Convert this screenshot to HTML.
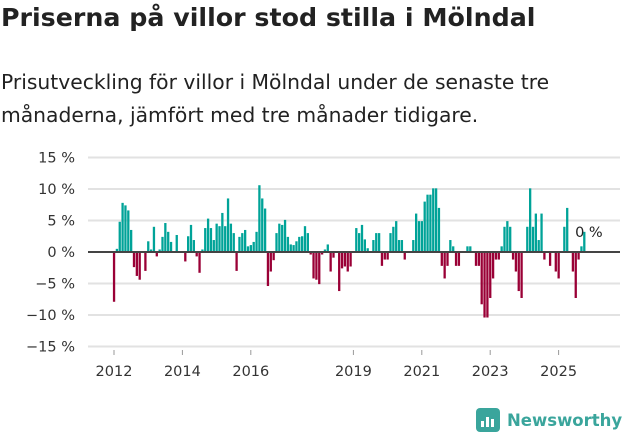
<!DOCTYPE html>
<html><head><meta charset="utf-8"><style>
body{margin:0;width:631px;height:439px;background:#fff;font-family:"DejaVu Sans",sans-serif;overflow:hidden;position:relative}
h1{position:absolute;left:1px;top:3px;margin:0;font-size:25.3px;font-weight:bold;color:#222;white-space:nowrap}
p{position:absolute;left:1px;top:66px;margin:0;font-size:20.3px;line-height:33px;color:#222;white-space:nowrap}
svg{position:absolute;left:0;top:0}
</style></head><body>
<h1>Priserna på villor stod stilla i Mölndal</h1>
<p>Prisutveckling för villor i Mölndal under de senaste tre<br>månaderna, jämfört med tre månader tidigare.</p>
<svg id="c" width="631" height="439"></svg>
<script>
const yTicks=[15,10,5,0,-5,-10,-15];
const yearLabels=["2012","2014","2016","2019","2021","2023","2025"];
const yearMonths=[0,24,48,84,108,132,156];
const values=[-7.9,0.5,4.8,7.8,7.4,6.6,3.5,-2.4,-3.8,-4.4,0,-3.0,
1.7,0.4,4.0,-0.7,0.4,2.4,4.6,3.2,1.6,0,2.7,0,
0,-1.5,2.5,4.3,1.9,-0.7,-3.3,0.4,3.8,5.3,3.8,1.9,
4.5,4.1,6.2,4.1,8.5,4.5,3.0,-3.0,2.4,3.0,3.5,0.9,
1.1,1.6,3.2,10.6,8.5,6.9,-5.4,-3.1,-1.3,3.0,4.5,4.3,
5.1,2.4,1.2,1.1,1.7,2.4,2.5,4.1,3.0,-0.4,-4.2,-4.4,
-5.1,-0.4,0.4,1.2,-3.1,-0.9,0,-6.2,-2.6,-2.3,-3.1,-2.3,
0,3.8,3.0,4.3,2.0,0.6,0,1.9,3.0,3.0,-2.2,-1.2,
-1.2,3.0,4.0,4.9,1.9,1.9,-1.2,0,0,1.9,6.1,4.9,
4.9,8.0,9.1,9.1,10.1,10.1,7.0,-2.2,-4.2,-2.2,1.9,0.9,
-2.2,-2.2,0,0,0.9,0.9,0,-2.2,-2.2,-8.3,-10.4,-10.4,
-7.3,-4.2,-1.2,-1.2,0.9,4.0,4.9,4.0,-1.2,-3.1,-6.2,-7.3,
0,4.0,10.1,4.0,6.1,1.9,6.1,-1.2,0,-2.2,0,-3.1,
-4.2,0,4.0,7.0,0,-3.1,-7.3,-1.2,0.9,3.2,0];
const lastLabel="0 %";
const NS="http://www.w3.org/2000/svg",svg=document.getElementById('c');
const y=v=>252-v*6.3, x=m=>114+2.85*m;
function mk(t,a,p){const e=document.createElementNS(NS,t);for(const k in a)e.setAttribute(k,a[k]);(p||svg).appendChild(e);return e;}
yTicks.forEach(v=>{
 if(v!==0){const g=mk('line',{x1:88,x2:620,y1:y(v),y2:y(v),stroke:'#e2e2e2','stroke-width':2});
 
 }
 const t=mk('text',{x:75,y:y(v)+5,'text-anchor':'end','font-size':14.5,fill:'#333'});
 t.textContent=(v<0?'−'+(-v):v)+' %';
 
 
});
values.forEach((v,i)=>{
 if(v===0)return;
 const r=mk('rect',{x:x(i)-1.1,y:Math.min(y(v),252),width:2.3,height:Math.abs(y(v)-252),fill:v>0?'#00a398':'#9a0036'});
 
 
});
const z=mk('line',{x1:88,x2:620,y1:252,y2:252,stroke:'#444','stroke-width':2});


yearLabels.forEach((l,i)=>{
 const tk=mk('line',{x1:x(yearMonths[i]),x2:x(yearMonths[i]),y1:350,y2:355,stroke:'#999'});
 
 
 const t=mk('text',{x:x(yearMonths[i]),y:376,'text-anchor':'middle','font-size':14.5,fill:'#333'});
 t.textContent=l;
 
 
});
const ll=mk('text',{x:x(values.length-1)-12,y:237,'font-size':14.5,fill:'#222'});
ll.textContent=lastLabel;


</script>
<div style="position:absolute;left:476px;top:408px;display:flex;align-items:center">
<div style="width:24px;height:24px;background:#3aa59c;border-radius:4px;position:relative"><div style="position:absolute;left:5px;bottom:5px;width:3px;height:6px;background:#fff"></div><div style="position:absolute;left:10px;bottom:5px;width:3px;height:10px;background:#fff"></div><div style="position:absolute;left:15px;bottom:5px;width:3px;height:8px;background:#fff"></div></div>
<span style="margin-left:7px;font-size:16.5px;font-weight:bold;color:#3aa59c">Newsworthy</span></div>
</body></html>
